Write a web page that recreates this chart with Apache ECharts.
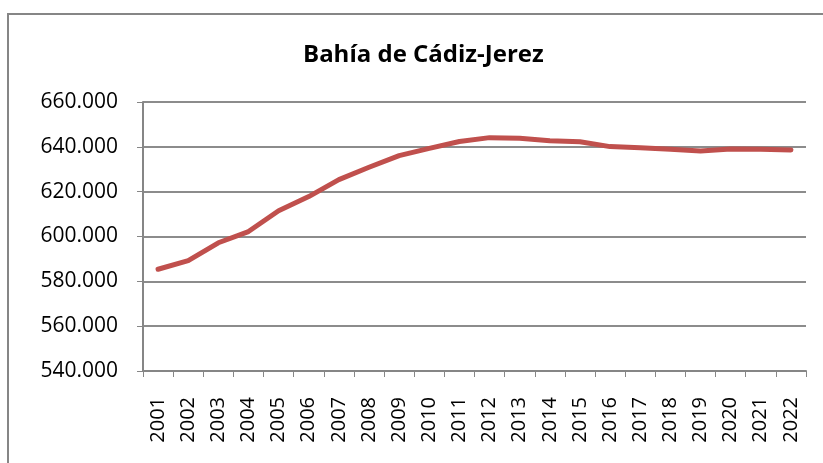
<!DOCTYPE html>
<html>
<head>
<meta charset="utf-8">
<script src="https://cdn.jsdelivr.net/npm/echarts@6/dist/echarts.min.js"></script>
<style>
  html, body { margin: 0; padding: 0; background: #fff; }
  #chart { width: 823px; height: 463px; }
</style>
</head>
<body>
<div id="chart"></div>
<script>
// data
const years = ['2001', '2002', '2003', '2004', '2005', '2006', '2007', '2008', '2009', '2010', '2011',
  '2012', '2013', '2014', '2015', '2016', '2017', '2018', '2019', '2020', '2021', '2022'];
const poblacion = [585400, 589200, 597200, 602200, 611500, 617800, 625400, 630900, 636100, 639300, 642400,
  644100, 643800, 642700, 642300, 640100, 639600, 638900, 638100, 639000, 638900, 638600];
const yMin = 540000, yMax = 660000, yStep = 20000;

const fmt = v => (v / 1000).toFixed(3);

const chart = echarts.init(document.getElementById('chart'));
chart.setOption({
  animation: false,
  backgroundColor: '#fff',
  title: {
    text: 'Bahía de Cádiz-Jerez',
    left: 298,
    top: 38,
    textStyle: { fontFamily: 'Open Sans', fontWeight: 'bold', fontSize: 24, color: '#000' }
  },
  graphic: [{
    type: 'rect',
    shape: { x: 8, y: 14, width: 830, height: 470 },
    style: { fill: 'none', stroke: '#868686', lineWidth: 2 },
    silent: true
  }],
  grid: { left: 143, right: 17, top: 102, bottom: 92 },
  xAxis: {
    type: 'category',
    data: years,
    boundaryGap: true,
    axisLine: { lineStyle: { color: '#868686', width: 2 } },
    axisTick: { show: true, length: 6, lineStyle: { color: '#868686' } },
    axisLabel: {
      rotate: 90, interval: 0, margin: 26,
      fontFamily: 'Open Sans', fontSize: 20, color: '#000'
    }
  },
  yAxis: {
    type: 'value',
    min: yMin, max: yMax, interval: yStep,
    axisLine: { show: true, lineStyle: { color: '#868686', width: 2 } },
    axisTick: { show: true, length: 6, lineStyle: { color: '#868686' } },
    splitLine: { lineStyle: { color: '#8c8c8c', width: 2 } },
    axisLabel: {
      formatter: fmt, margin: 25,
      fontFamily: 'Open Sans', fontSize: 21, color: '#000'
    }
  },
  series: [{
    type: 'line',
    data: poblacion,
    symbol: 'none',
    lineStyle: { color: '#C0504D', width: 5, cap: 'round', join: 'round' }
  }]
});
</script>
</body>
</html>
